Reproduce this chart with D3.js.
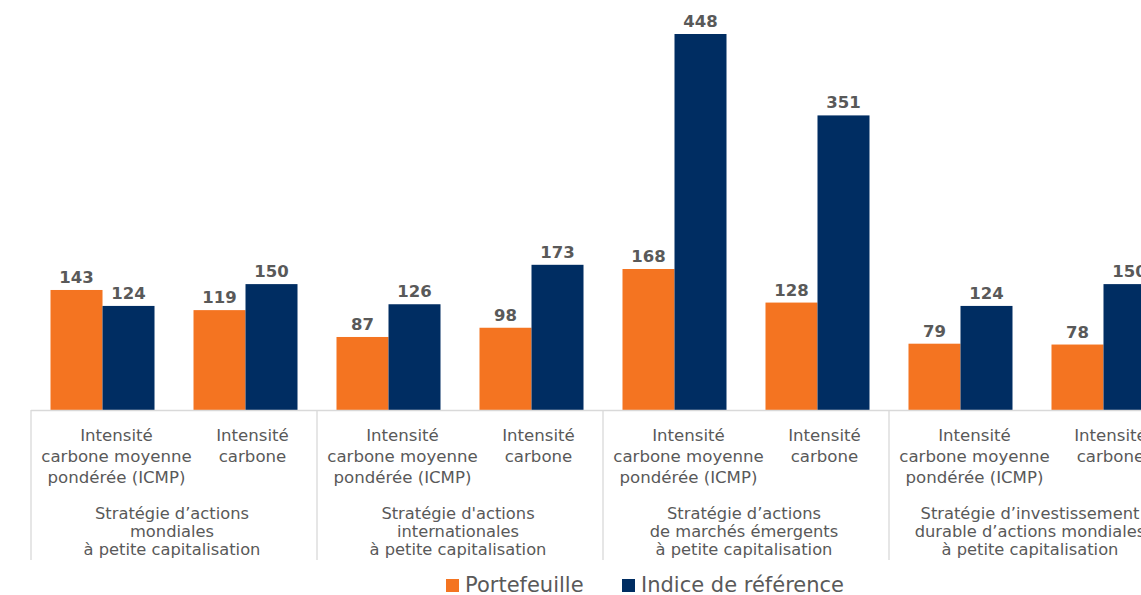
<!DOCTYPE html>
<html>
<head>
<meta charset="utf-8">
<script src="https://d3js.org/d3.v7.min.js"></script>
<style>
  body { margin: 0; background: #fff; overflow: hidden; }
  text { font-family: "DejaVu Sans", sans-serif; }
</style>
</head>
<body>
<svg width="1141" height="595"></svg>
<script>
    // data
    var groups = [
        ["Stratégie d’actions", "mondiales", "à petite capitalisation"],
        ["Stratégie d'actions", "internationales", "à petite capitalisation"],
        ["Stratégie d’actions", "de marchés émergents", "à petite capitalisation"],
        ["Stratégie d’investissement", "durable d’actions mondiales", "à petite capitalisation"]
    ];
    var metrics = [
        ["Intensité", "carbone moyenne", "pondérée (ICMP)"],
        ["Intensité", "carbone"]
    ];
    var series = ["Portefeuille", "Indice de référence"];
    var portefeuille = [143, 119, 87, 98, 168, 128, 79, 78];
    var indice = [124, 150, 126, 173, 448, 351, 124, 150];

    var colors = ["#f47421", "#002d62"];
    var labelColor = "#595959";

    var svg = d3.select("svg");
    var left = 31, step = 143, baseline = 410;

    var cats = d3.range(portefeuille.length);
    var x = d3.scaleBand()
        .domain(cats)
        .range([left, left + step * cats.length])
        .paddingInner(0.2727)
        .paddingOuter(0.1364);
    var xs = d3.scaleBand().domain([0, 1]).range([0, x.bandwidth()]);
    var y = d3.scaleLinear().domain([0, 448]).range([baseline, 34]);

    var rows = cats.map(function(i) { return [portefeuille[i], indice[i]]; });

    var cat = svg.append("g").selectAll("g")
        .data(rows).enter().append("g")
        .attr("transform", function(d, i) { return "translate(" + x(i) + ",0)"; });

    cat.selectAll("rect")
        .data(function(d) { return d; })
        .enter().append("rect")
        .attr("x", function(d, j) { return xs(j); })
        .attr("width", xs.bandwidth())
        .attr("y", function(d) { return y(d); })
        .attr("height", function(d) { return baseline - y(d); })
        .attr("fill", function(d, j) { return colors[j]; });

    cat.selectAll("text.val")
        .data(function(d) { return d; })
        .enter().append("text")
        .attr("class", "val")
        .attr("x", function(d, j) { return xs(j) + xs.bandwidth() / 2; })
        .attr("y", function(d) { return y(d) - 7; })
        .attr("text-anchor", "middle")
        .attr("fill", labelColor)
        .style("font-size", "16.5px")
        .style("font-weight", "bold")
        .text(function(d) { return d; });

    // axis lines
    var gw = step * 2;
    var axis = svg.append("g").attr("stroke", "#d9d9d9").attr("stroke-width", 1.3);
    axis.append("line")
        .attr("x1", left).attr("x2", left + gw * groups.length)
        .attr("y1", baseline + 0.5).attr("y2", baseline + 0.5);
    axis.selectAll("line.sep")
        .data(d3.range(groups.length + 1)).enter().append("line")
        .attr("class", "sep")
        .attr("x1", function(d) { return left + d * gw; })
        .attr("x2", function(d) { return left + d * gw; })
        .attr("y1", baseline).attr("y2", 560);

    // sub-category labels (excel shifts them a bit right of the band centre)
    var shift = [14, 7];
    cats.forEach(function(i) {
        var t = svg.append("text")
            .attr("text-anchor", "middle")
            .attr("fill", labelColor)
            .style("font-size", "16.6px");
        metrics[i % 2].forEach(function(line, k) {
            t.append("tspan")
                .attr("x", x(i) + x.bandwidth() / 2 + shift[i % 2])
                .attr("y", 441 + k * 21)
                .text(line);
        });
    });

    // group labels
    groups.forEach(function(g, i) {
        var t = svg.append("text")
            .attr("text-anchor", "middle")
            .attr("fill", labelColor)
            .style("font-size", "16.3px");
        g.forEach(function(line, k) {
            t.append("tspan")
                .attr("x", left + gw * i + gw / 2 - 2)
                .attr("y", 519 + k * 18)
                .text(line);
        });
    });

    // legend
    var legX = [446, 622];
    var leg = svg.append("g").selectAll("g")
        .data(series).enter().append("g")
        .attr("transform", function(d, i) { return "translate(" + legX[i] + ",579)"; });
    leg.append("rect")
        .attr("width", 13).attr("height", 13)
        .attr("fill", function(d, i) { return colors[i]; });
    leg.append("text")
        .attr("x", 19).attr("y", 13)
        .attr("fill", labelColor)
        .style("font-size", "21px")
        .text(function(d) { return d; });
</script>
</body>
</html>
